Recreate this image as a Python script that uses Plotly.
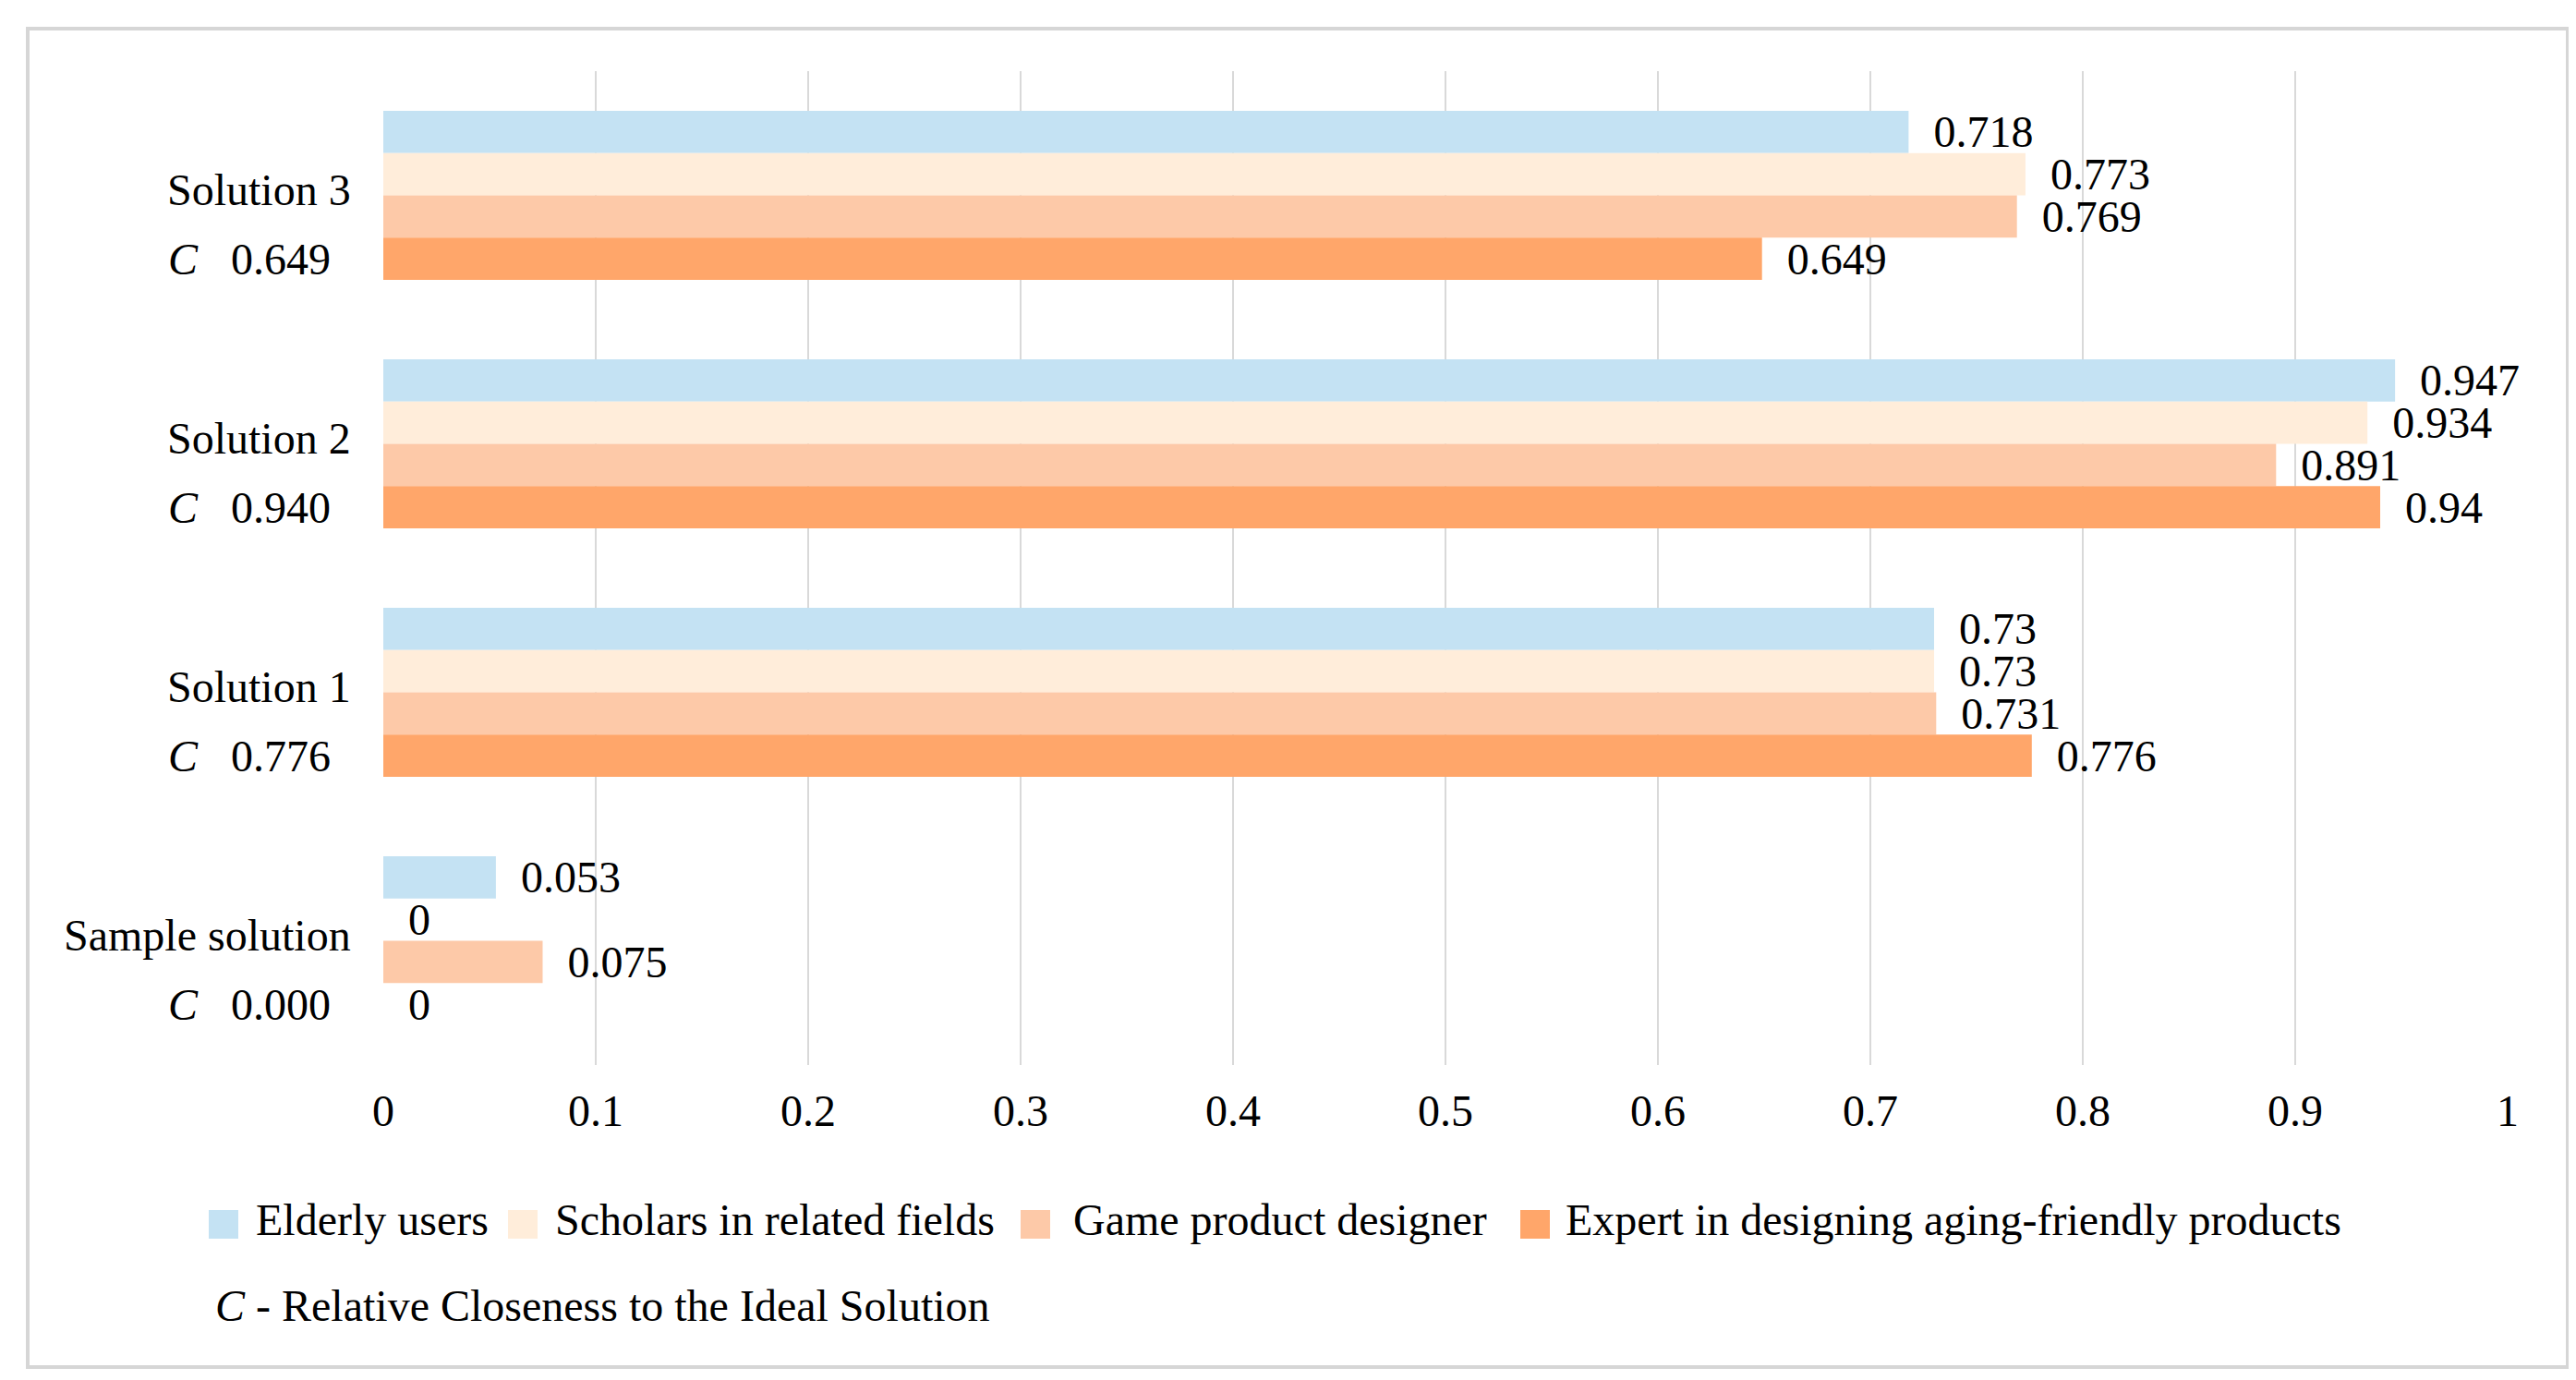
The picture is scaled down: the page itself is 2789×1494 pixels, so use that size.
import plotly.graph_objects as go

# ---------------------------------------------------------------------------------------------
# Data
categories = ["Solution 3", "Solution 2", "Solution 1", "Sample solution"]
closeness = ["0.649", "0.940", "0.776", "0.000"]   # C - relative closeness per solution

groups = ["Elderly users", "Scholars in related fields", "Game product designer",
          "Expert in designing aging-friendly products"]
elderly = [0.718, 0.947, 0.73, 0.053]
scholars = [0.773, 0.934, 0.73, 0]
designer = [0.769, 0.891, 0.731, 0.075]
expert = [0.649, 0.94, 0.776, 0]

x_ticks = [0, 0.1, 0.2, 0.3, 0.4, 0.5, 0.6, 0.7, 0.8, 0.9, 1]
# ---------------------------------------------------------------------------------------------

colors = ["#C4E2F3", "#FFEDDA", "#FDC9A8", "#FFA66A"]
FONT = "Liberation Serif, Times New Roman, serif"
FS = 48

W, H = 2789, 1494
L, R, T, B = 407, 82, 69, 349
PW, PH = W - L - R, H - T - B


# convert pixel positions of the page into paper coordinates
def px(x):
    return (x - L) / PW


def py(y):
    return (H - B - y) / PH


fig = go.Figure()

for name, vals, col in zip(groups, [elderly, scholars, designer, expert], colors):
    fig.add_trace(go.Bar(
        y=categories, x=vals, name=name, orientation="h",
        marker=dict(color=col, line=dict(width=0)),
        text=vals, texttemplate="\u00a0\u00a0%{x}", textposition="outside",
        textfont=dict(family=FONT, size=FS, color="black"),
        cliponaxis=False, constraintext="none", showlegend=False,
    ))

# category labels: name + C value below
annotations = []
for cat, c in zip(categories, closeness):
    annotations.append(dict(x=px(374), y=cat, xref="paper", yref="y", xanchor="right",
                            yanchor="middle", yshift=6, text=cat, showarrow=False,
                            font=dict(family=FONT, size=FS, color="black")))
    annotations.append(dict(x=px(352), y=cat, xref="paper", yref="y", xanchor="right",
                            yanchor="middle", yshift=-69,
                            text="<i>C</i>\u00a0\u00a0\u00a0" + c, showarrow=False,
                            font=dict(family=FONT, size=FS, color="black")))

# legend drawn by hand (big squares like the original)
shapes = []
sq_x = [218, 542, 1097, 1638]
txt_x = [267, 591, 1152, 1685]
for name, col, sx, tx in zip(groups, colors, sq_x, txt_x):
    shapes.append(dict(type="rect", xref="paper", yref="paper",
                       x0=px(sx), x1=px(sx + 32), y0=py(1333), y1=py(1302),
                       fillcolor=col, line=dict(width=0)))
    annotations.append(dict(x=px(tx), y=py(1312), xref="paper", yref="paper",
                            xanchor="left", yanchor="middle", text=name, showarrow=False,
                            font=dict(family=FONT, size=FS, color="black")))

annotations.append(dict(x=px(223), y=py(1405), xref="paper", yref="paper",
                        xanchor="left", yanchor="middle",
                        text="<i>C</i> - Relative Closeness to the Ideal Solution",
                        showarrow=False, font=dict(family=FONT, size=FS, color="black")))

# outer frame
shapes.append(dict(type="rect", xref="paper", yref="paper",
                   x0=px(22), x1=px(2772), y0=py(1472), y1=py(23),
                   line=dict(color="#D6D6D6", width=4), fillcolor="rgba(0,0,0,0)"))

fig.update_layout(
    width=W, height=H,
    margin=dict(l=L, r=R, t=T, b=B),
    barmode="group", bargap=0.32, bargroupgap=0,
    plot_bgcolor="white", paper_bgcolor="white",
    font=dict(family=FONT, size=FS, color="black"),
    annotations=annotations, shapes=shapes,
)
fig.update_xaxes(
    range=[0, 1], tickvals=x_ticks, ticktext=[f"{v:g}" for v in x_ticks],
    showgrid=True, gridcolor="#D9D9D9", gridwidth=2,
    zeroline=False, showline=False, ticks="", ticklabelstandoff=17,
    tickfont=dict(family=FONT, size=FS, color="black"),
)
fig.update_yaxes(
    autorange="reversed", showticklabels=False, showgrid=False,
    zeroline=False, showline=False, ticks="",
)

fig.write_html("out.html")
